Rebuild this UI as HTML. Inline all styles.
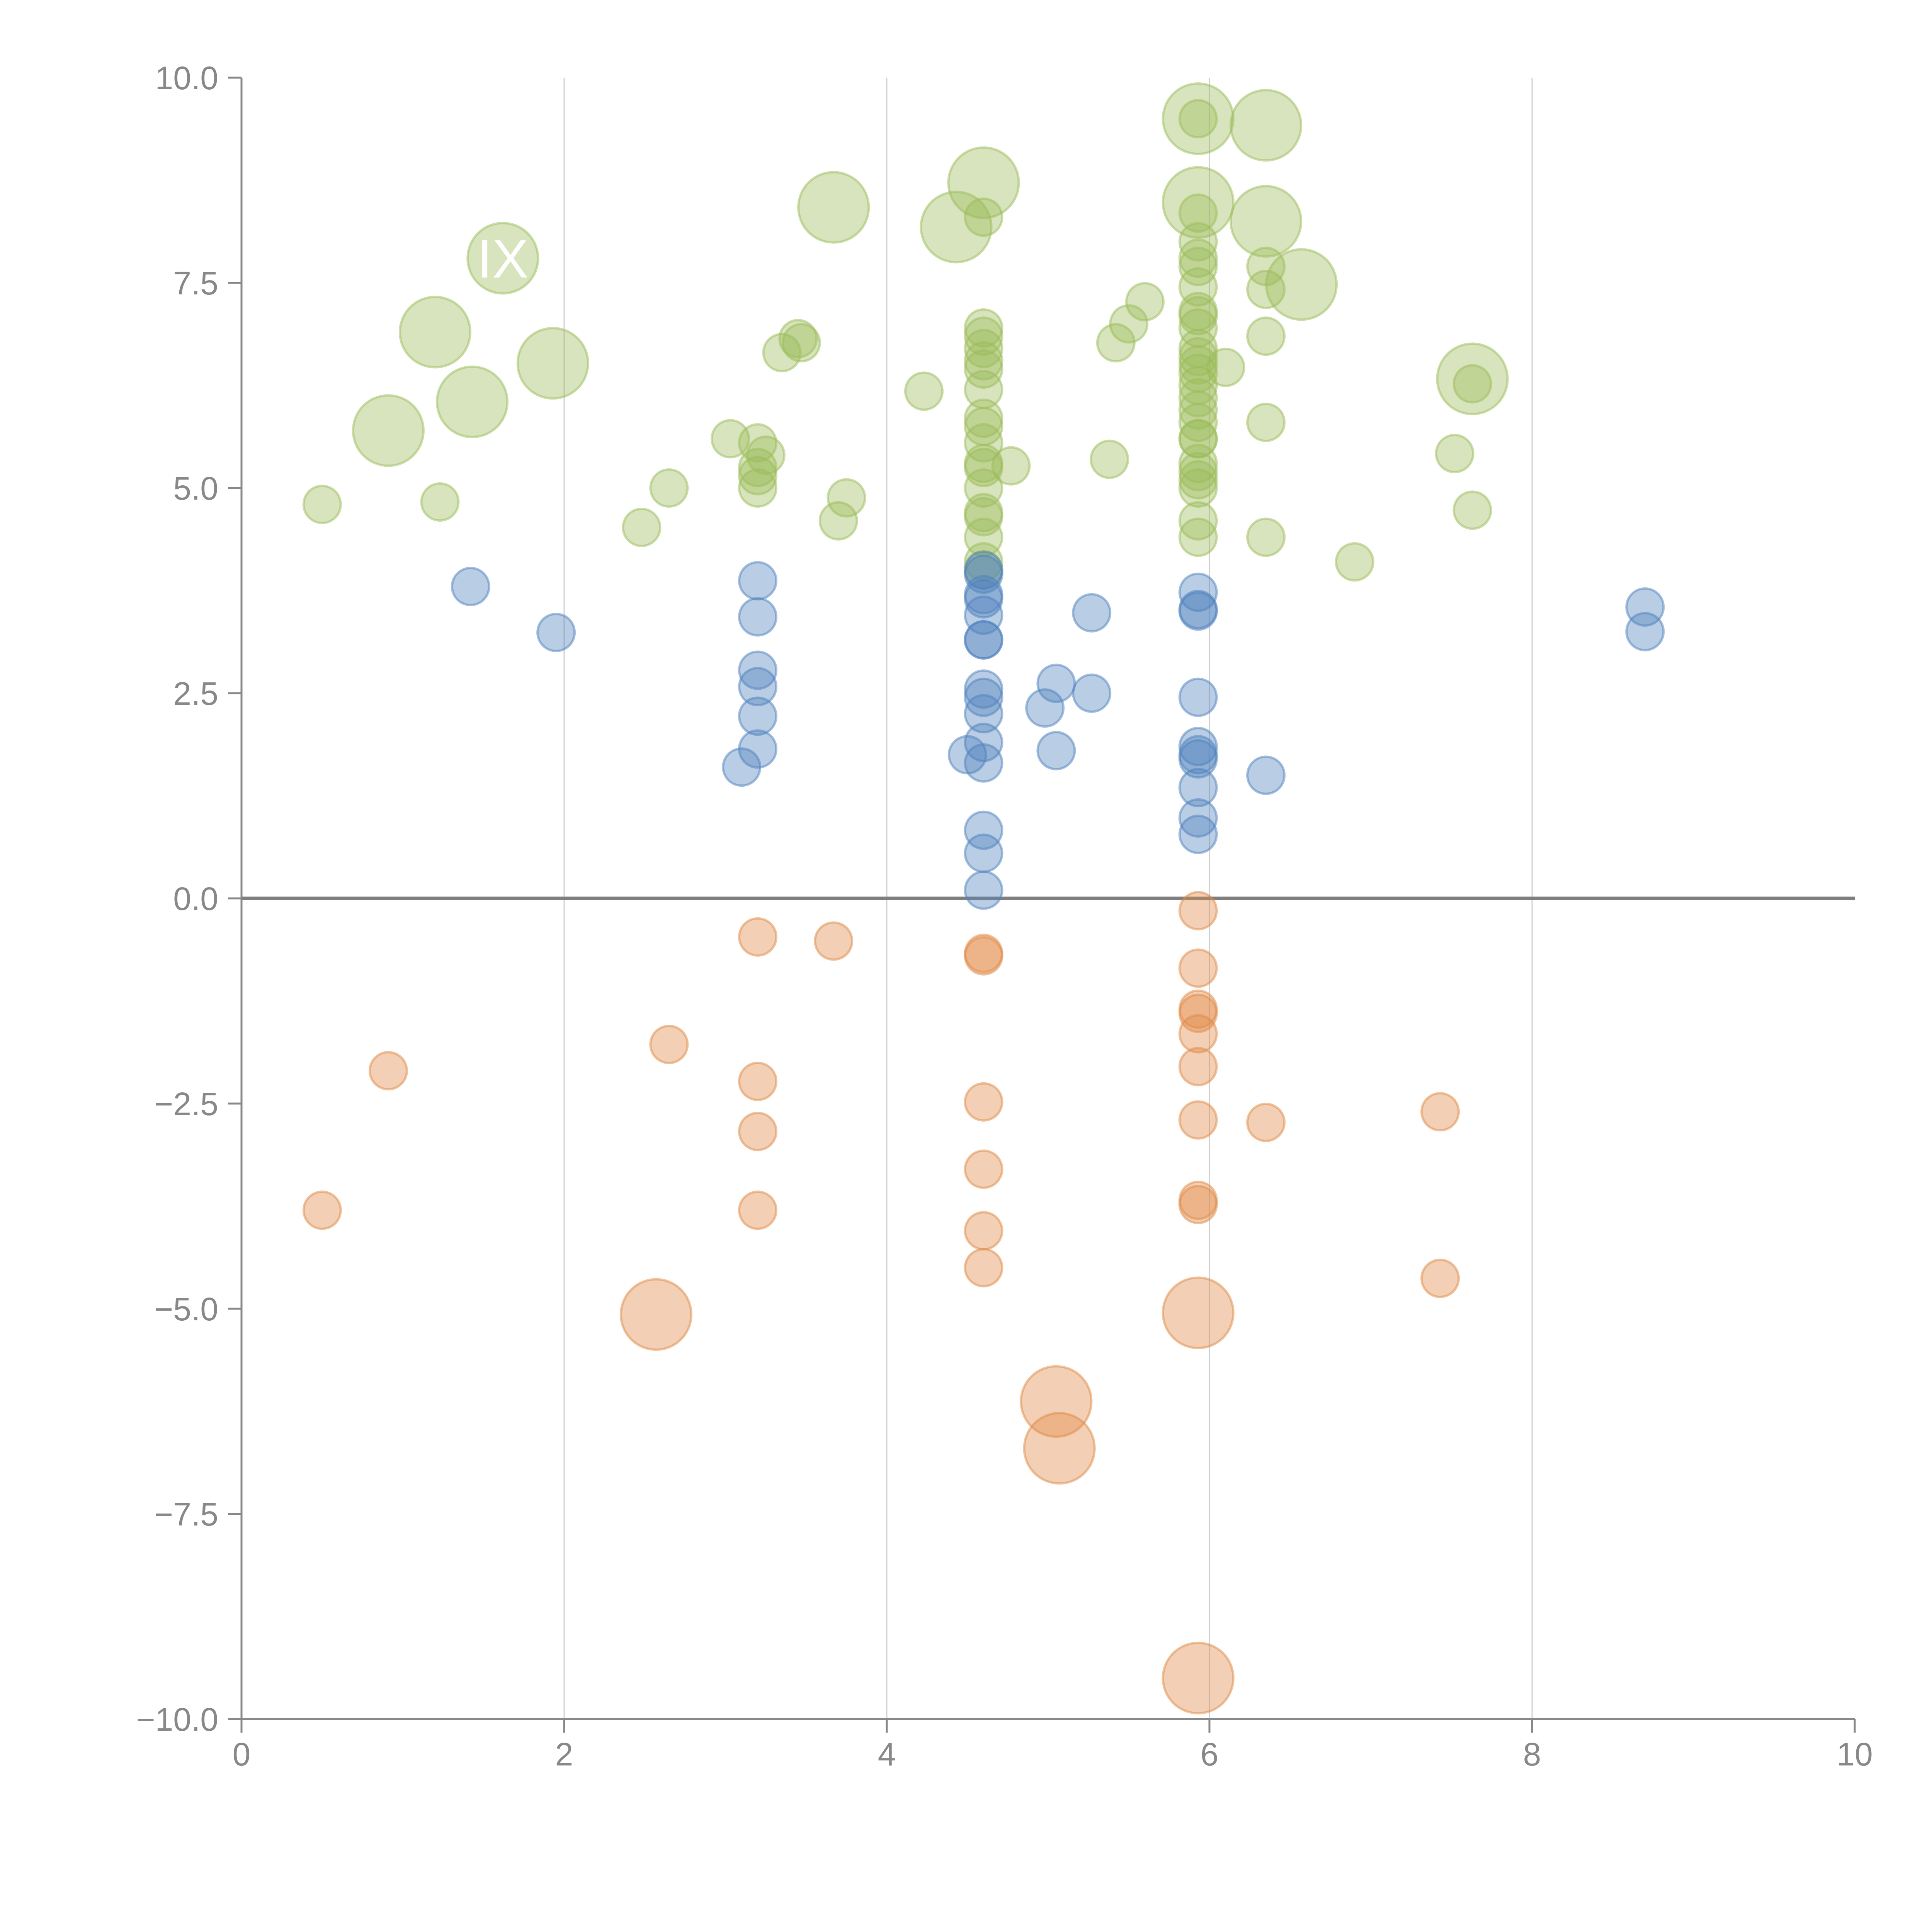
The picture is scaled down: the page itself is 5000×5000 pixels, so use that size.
<!DOCTYPE html>
<html><head><meta charset="utf-8"><style>
html,body{margin:0;padding:0;background:#fff;}
svg{display:block;}
text{font-family:"Liberation Sans",sans-serif;}
</style></head><body>
<svg id="chart" width="5000" height="5000" viewBox="0 0 5000 5000" xmlns="http://www.w3.org/2000/svg">
<g id="grid"></g>
<g id="axes"></g>
<g id="marks"></g>
<g id="labels"></g>
</svg>
<script>
const xTicks = [0, 2, 4, 6, 8, 10];
const xTickLabels = ["0", "2", "4", "6", "8", "10"];
const yTicks = [10, 7.5, 5, 2.5, 0, -2.5, -5, -7.5, -10];
const yTickLabels = ["10.0", "7.5", "5.0", "2.5", "0.0", "\u22122.5", "\u22125.0", "\u22127.5", "\u221210.0"];

const greenX = [1.62,1.2,1.43,1.93,0.91,3.67,4.6,4.43,5.93,6.35,5.93,6.35,6.57,7.63,
0.5,1.23,2.48,2.65,3.03,3.2,3.25,3.2,3.2,3.2,3.35,3.45,3.47,3.75,3.7,4.23,4.6,4.6,4.6,4.6,4.6,4.6,4.6,4.6,4.6,4.6,4.6,4.6,4.6,4.6,4.6,4.6,4.6,4.6,4.77,5.38,5.42,5.5,5.6,5.93,5.93,5.93,5.93,5.93,5.93,5.93,5.93,5.93,5.93,5.93,5.93,5.93,5.93,5.93,5.93,5.93,5.93,5.93,5.93,5.93,5.93,5.93,5.93,5.93,6.1,6.35,6.35,6.35,6.35,6.35,6.9,7.52,7.63,7.63];
const greenY = [7.8,6.9,6.05,6.52,5.7,8.42,8.72,8.18,9.5,9.42,8.48,8.25,7.48,6.33,
4.8,4.83,4.52,5.0,5.6,5.55,5.4,5.25,5.15,5.0,6.65,6.82,6.77,4.88,4.6,6.18,8.3,6.95,6.85,6.7,6.55,6.45,6.2,5.85,5.75,5.55,5.3,5.25,5.0,4.7,4.65,4.4,4.1,4.0,5.27,5.35,6.77,7.0,7.27,9.5,8.35,8.0,7.8,7.7,7.45,7.15,7.1,6.95,6.7,6.6,6.5,6.4,6.25,6.1,5.95,5.8,5.6,5.6,5.3,5.2,5.1,5.0,4.6,4.4,6.47,7.7,7.42,6.85,5.8,4.4,4.1,5.42,6.27,4.73];
const greenSize = [3.6,3.6,3.6,3.6,3.6,3.6,3.6,3.6,3.6,3.6,3.6,3.6,3.6,3.6].concat(new Array(74).fill(1));

const blueX = [1.42,1.95,3.1,3.2,3.2,3.2,3.2,3.2,3.2,4.5,4.6,4.6,4.6,4.6,4.6,4.6,4.6,4.6,4.6,4.6,4.6,4.6,4.6,4.6,4.6,4.98,5.05,5.05,5.27,5.27,5.93,5.93,5.93,5.93,5.93,5.93,5.93,5.93,5.93,5.93,6.35,8.7,8.7];
const blueY = [3.8,3.24,1.6,3.87,3.43,2.78,2.58,2.22,1.82,1.75,4.0,3.95,3.7,3.65,3.45,3.15,3.15,2.55,2.45,2.25,1.9,1.65,0.83,0.55,0.1,2.32,2.62,1.8,3.48,2.5,3.73,3.52,3.5,2.45,1.85,1.75,1.7,1.35,0.98,0.78,1.5,3.55,3.25];
const blueSize = new Array(43).fill(1);

const orangeX = [0.5,0.91,2.65,3.2,3.2,3.2,3.2,3.67,4.6,4.6,4.6,4.6,4.6,4.6,5.93,5.93,5.93,5.93,5.93,5.93,5.93,5.93,5.93,6.35,7.43,7.43,2.57,5.93,5.05,5.07,5.93];
const orangeY = [-3.8,-2.1,-1.78,-0.47,-2.23,-2.84,-3.8,-0.52,-0.67,-0.7,-2.48,-3.3,-4.05,-4.5,-0.15,-0.85,-1.35,-1.4,-1.65,-2.05,-2.7,-3.68,-3.73,-2.73,-2.6,-4.63,-5.07,-5.05,-6.13,-6.7,-9.5];
const orangeSize = new Array(26).fill(1).concat([3.6,3.6,3.6,3.6,3.6]);

const NS = "http://www.w3.org/2000/svg";
const X0 = 625, X1 = 4800, Y0 = 4449, Y1 = 201;
function sx(v){ return X0 + (v - 0) / 10 * (X1 - X0); }
function sy(v){ return Y0 - (v + 10) / 20 * (Y0 - Y1); }
function sr(s){ return 48 * Math.sqrt(s); }
function mk(tag, attrs, parent){
  const e = document.createElementNS(NS, tag);
  for (const k in attrs) e.setAttribute(k, attrs[k]);
  parent.appendChild(e);
  return e;
}
const grid = document.getElementById('grid');
const axes = document.getElementById('axes');
const marks = document.getElementById('marks');
const labels = document.getElementById('labels');

xTicks.forEach((t, i) => {
  if (t > 0 && t < 10) {
    const g = mk('line', {x1: sx(t), x2: sx(t), y1: Y1, y2: Y0, stroke: '#cfcfcf', 'stroke-width': 3}, grid);
    
    
  }
  const tk = mk('line', {x1: sx(t), x2: sx(t), y1: Y0, y2: Y0 + 35, stroke: '#888', 'stroke-width': 5}, axes);
  
  
  const lb = mk('text', {x: sx(t), y: Y0 + 120, 'text-anchor': 'middle', 'font-size': 84, fill: '#888'}, axes);
  lb.textContent = xTickLabels[i];
  
  
});
yTicks.forEach((t, i) => {
  const tk = mk('line', {x1: X0 - 35, x2: X0, y1: sy(t), y2: sy(t), stroke: '#888', 'stroke-width': 5}, axes);
  
  
  const lb = mk('text', {x: X0 - 60, y: sy(t) + 30, 'text-anchor': 'end', 'font-size': 84, fill: '#888'}, axes);
  lb.textContent = yTickLabels[i];
  
  
});
const ya = mk('line', {x1: X0, x2: X0, y1: Y1, y2: Y0, stroke: '#888', 'stroke-width': 5}, axes);


const xa = mk('line', {x1: X0, x2: X1, y1: Y0, y2: Y0, stroke: '#888', 'stroke-width': 5}, axes);


const zl = mk('line', {x1: X0, x2: X1, y1: sy(0), y2: sy(0), stroke: '#7f7f7f', 'stroke-width': 9}, axes);



function series(xs, ys, ss, color, name){
  for (let i = 0; i < xs.length; i++) {
    const c = mk('circle', {cx: sx(xs[i]), cy: sy(ys[i]), r: sr(ss[i]), fill: color, 'fill-opacity': 0.4, stroke: color, 'stroke-opacity': 0.5, 'stroke-width': 6}, marks);
    
    
  }
}
series(greenX, greenY, greenSize, '#9bbb59', 'green-bubble');
series(blueX, blueY, blueSize, '#4f81bd', 'blue-bubble');
series(orangeX, orangeY, orangeSize, '#e08a45', 'orange-bubble');

const ix = mk('text', {x: sx(1.62), y: sy(7.8) + 50, 'text-anchor': 'middle', 'font-size': 140, fill: '#fff'}, labels);
ix.textContent = 'IX';


</script>
</body></html>
